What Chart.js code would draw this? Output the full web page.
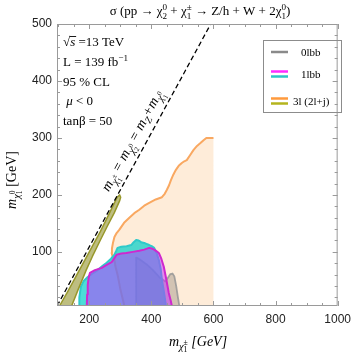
<!DOCTYPE html>
<html>
<head>
<meta charset="utf-8">
<script src="https://cdn.jsdelivr.net/npm/chart.js@4"></script>
<style>
  html, body { margin: 0; padding: 0; background: #fff; }
  #wrap { width: 357px; height: 357px; }
</style>
</head>
<body>
<div id="wrap"><canvas id="c" width="357" height="357"></canvas></div>
<script>
// axis ticks
const xTicks = [200, 400, 600, 800, 1000];
const yTicks = [100, 200, 300, 400, 500];
const xMinor = [100, 150, 250, 300, 350, 450, 500, 550, 650, 700, 750, 850, 900, 950];
const yMinor = [20, 40, 60, 80, 120, 140, 160, 180, 220, 240, 260, 280, 320, 340, 360, 380, 420, 440, 460, 480];

// m_chi2 = mZ + m_chi1 kinematic line
const mZ = 91.2;
const diagY = [5, 500];

// 3l (2l+j) : orange contour (left edge) and the excluded area up to 600 GeV
const orangeX = [313, 300, 291, 284, 281, 275, 272, 273, 276, 281, 288, 297, 312, 329, 345, 361, 377, 393, 414, 434, 443, 450, 457, 463, 471, 479, 488, 498, 506, 514, 525, 536, 547, 558, 568, 577, 600];
const orangeY = [5, 35, 60, 75, 86, 92, 98, 106, 115, 126, 133, 139, 151, 160, 168, 174, 181, 186, 192, 196, 202, 209, 217, 226, 236, 244, 251, 256, 259, 261, 270, 279, 286, 291, 296, 300, 300];
const orangeEdgeX = [600, 313];
const orangeEdgeY = [5, 5];

// 3l (2l+j) : olive band along the diagonal
const oliveX = [104, 130, 165, 200, 235, 265, 290, 298, 301, 298, 280, 258, 235, 210, 190, 165, 143, 104];
const oliveY = [5, 30, 65, 100, 135, 168, 196, 200, 196, 190, 168, 145, 120, 92, 68, 35, 5, 5];

// 0lbb
const grayX = [351, 351, 365, 385, 405, 425, 445, 455, 461, 468, 474, 480, 485, 490, 351];
const grayY = [5, 90, 86, 78, 68, 56, 48, 56, 61, 62, 57, 40, 22, 5, 5];

// 1lbb : cyan contour
const cyanX = [167, 168, 173, 182, 195, 210, 227, 242, 256, 270, 281, 287, 291, 303, 320, 335, 343, 351, 359, 367, 380, 393, 401, 409, 417, 424, 430, 434, 441, 447, 167];
const cyanY = [5, 20, 39, 49, 56, 62, 68, 75, 81, 88, 95, 102, 107, 109, 110, 112, 117, 121, 120, 117, 115, 112, 110, 107, 98, 86, 70, 51, 28, 5, 5];

// 1lbb : magenta contour
const magX = [192, 193, 195, 198, 202, 218, 240, 256, 272, 281, 288, 303, 319, 340, 361, 377, 393, 401, 409, 417, 424, 432, 440, 448, 456, 462, 466, 192];
const magY = [5, 25, 42, 55, 63, 68, 72, 77, 82, 89, 95, 97, 98, 100, 102, 104, 107, 106, 104, 101, 98, 88, 74, 52, 28, 15, 5, 5];

const SERIF = '"Liberation Serif", "DejaVu Serif", serif';
const SANS = '"Liberation Sans", Arial, sans-serif';

const pts = (xs, ys) => xs.map((x, i) => ({ x: x, y: ys[i] }));

// draw a run of text pieces {t, s(scale), dy(em), it, stack}
function rich(ctx, parts, x, y, size, draw) {
    let cx = x, lastStart = x, lastW = 0;
    for (const p of parts) {
        const sz = size * (p.s || 1);
        ctx.font = (p.it ? 'italic ' : '') + sz + 'px ' + SERIF;
        const w = ctx.measureText(p.t).width;
        let px = cx;
        if (p.stack) px = lastStart;
        if (draw) ctx.fillText(p.t, px, y + (p.dy || 0) * size);
        if (p.stack) {
            cx = lastStart + Math.max(lastW, w);
            lastW = Math.max(lastW, w);
        } else {
            lastStart = cx; lastW = w; cx += w;
        }
    }
    return cx - x;
}
function richAt(ctx, parts, x, y, size, align) {
    const w = rich(ctx, parts, 0, 0, size, false);
    const sx = align === 'center' ? x - w / 2 : x;
    rich(ctx, parts, sx, y, size, true);
}

const annotations = {
    id: 'annotations',
    afterDraw(chart) {
        const ctx = chart.ctx;
        const a = chart.chartArea;
        const xs = chart.scales.x, ys = chart.scales.y;
        ctx.save();

        // frame and inward ticks on all four sides
        ctx.strokeStyle = '#9a9a9a';
        ctx.lineWidth = 1;
        ctx.strokeRect(a.left + 0.5, a.top + 0.5, a.right - a.left - 1, a.bottom - a.top - 1);
        ctx.beginPath();
        const tickX = (v, len) => {
            const p = Math.round(xs.getPixelForValue(v)) + 0.5;
            ctx.moveTo(p, a.bottom); ctx.lineTo(p, a.bottom - len);
            ctx.moveTo(p, a.top); ctx.lineTo(p, a.top + len);
        };
        const tickY = (v, len) => {
            const p = Math.round(ys.getPixelForValue(v)) + 0.5;
            ctx.moveTo(a.left, p); ctx.lineTo(a.left + len, p);
            ctx.moveTo(a.right, p); ctx.lineTo(a.right - len, p);
        };
        xTicks.forEach(v => tickX(v, 5));
        xMinor.forEach(v => tickX(v, 3));
        yTicks.forEach(v => tickY(v, 5));
        yMinor.forEach(v => tickY(v, 3));
        ctx.stroke();

        ctx.fillStyle = '#000';
        ctx.textBaseline = 'alphabetic';
        ctx.textAlign = 'left';

        // title
        richAt(ctx, [
            { t: '\u03c3 (pp \u2192 \u03c7' }, { t: '2', s: 0.7, dy: 0.3 }, { t: '0', s: 0.7, dy: -0.4, stack: true },
            { t: ' + \u03c7' }, { t: '1', s: 0.7, dy: 0.3 }, { t: '\u00b1', s: 0.7, dy: -0.4, stack: true },
            { t: ' \u2192 Z/h + W + 2\u03c7' }, { t: '1', s: 0.7, dy: 0.3 }, { t: '0', s: 0.7, dy: -0.4, stack: true },
            { t: ')' }
        ], 200, 15, 13, 'center');

        // info block
        const L = 63, fs = 13;
        rich(ctx, [{ t: '\u221a' }, { t: 's', it: true }, { t: ' =13 TeV' }], L, 46, fs, true);
        ctx.font = fs + 'px ' + SERIF;
        const rw = ctx.measureText('\u221a').width;
        ctx.fillRect(L + rw - 0.5, 36, 6.5, 0.9);
        rich(ctx, [{ t: 'L = 139 fb' }, { t: '\u22121', s: 0.7, dy: -0.4 }], L, 66, fs, true);
        rich(ctx, [{ t: '95 % CL' }], L, 86, fs, true);
        rich(ctx, [{ t: ' \u03bc', it: true }, { t: ' < 0' }], L, 105, fs, true);
        rich(ctx, [{ t: 'tan\u03b2 = 50' }], L, 125, fs, true);

        // legend
        ctx.strokeStyle = '#8c8c8c';
        ctx.lineWidth = 1;
        ctx.strokeRect(263.5, 40.5, 78, 72);
        const legLine = (y, col) => {
            ctx.strokeStyle = col; ctx.lineWidth = 2.5;
            ctx.beginPath(); ctx.moveTo(271, y); ctx.lineTo(288, y); ctx.stroke();
        };
        legLine(52, '#8a8a8a');
        legLine(71.5, '#ff2cff');
        legLine(76.5, '#2ec6c6');
        legLine(98.5, '#ff9a3c');
        legLine(103.5, '#b4b41e');
        rich(ctx, [{ t: '0lbb' }], 301, 56, 11, true);
        rich(ctx, [{ t: '1lbb' }], 301, 78, 11, true);
        rich(ctx, [{ t: '3l (2l+j)' }], 293, 105, 11, true);

        // x axis title
        richAt(ctx, [
            { t: 'm', it: true }, { t: '\u03c7', it: true, s: 0.75, dy: 0.25 },
            { t: '1', s: 0.55, dy: 0.45 }, { t: '\u00b1', s: 0.55, dy: -0.05, stack: true },
            { t: ' [GeV]', it: true }
        ], 198, 346, 14, 'center');

        // y axis title
        ctx.save();
        ctx.translate(16, 180);
        ctx.rotate(-Math.PI / 2);
        richAt(ctx, [
            { t: 'm', it: true }, { t: '\u03c7', it: true, s: 0.75, dy: 0.25 },
            { t: '1', s: 0.55, dy: 0.45 }, { t: '0', s: 0.55, dy: -0.05, stack: true },
            { t: ' [GeV]' }
        ], 0, 0, 14, 'center');
        ctx.restore();

        // label along the kinematic line
        const y0 = 284, x0 = y0 + mZ;
        const p0x = xs.getPixelForValue(x0), p0y = ys.getPixelForValue(y0);
        const p1x = xs.getPixelForValue(x0 + 100), p1y = ys.getPixelForValue(y0 + 100);
        const ang = Math.atan2(p1y - p0y, p1x - p0x);
        ctx.save();
        ctx.translate(p0x, p0y);
        ctx.rotate(ang);
        richAt(ctx, [
            { t: 'm', it: true }, { t: '\u03c7', it: true, s: 0.75, dy: 0.25 },
            { t: '1', s: 0.5, dy: 0.45 }, { t: '\u00b1', s: 0.5, dy: -0.05, stack: true },
            { t: ' = ', it: true },
            { t: 'm', it: true }, { t: '\u03c7', it: true, s: 0.75, dy: 0.25 },
            { t: '2', s: 0.5, dy: 0.45 }, { t: '0', s: 0.5, dy: -0.05, stack: true },
            { t: ' = ', it: true },
            { t: 'm', it: true }, { t: 'Z', it: true, s: 0.7, dy: 0.25 },
            { t: '+', it: true },
            { t: 'm', it: true }, { t: '\u03c7', it: true, s: 0.75, dy: 0.25 },
            { t: '1', s: 0.5, dy: 0.45 }, { t: '0', s: 0.5, dy: -0.05, stack: true }
        ], 0, -9, 14, 'center');
        ctx.restore();

        ctx.restore();
    }
};

const region = (xs, ys, fillCol, lineCol, lw, order) => ({
    data: pts(xs, ys),
    fill: 'shape',
    backgroundColor: fillCol,
    borderColor: lineCol,
    borderWidth: lw,
    borderJoinStyle: 'round',
    pointRadius: 0,
    tension: 0,
    order: order
});

new Chart(document.getElementById('c'), {
    type: 'line',
    data: {
        datasets: [
            // orange excluded area (no edge line)
            region(orangeX.concat(orangeEdgeX), orangeY.concat(orangeEdgeY), 'rgba(253, 212, 170, 0.45)', 'rgba(0,0,0,0)', 0, 9),
            region(grayX, grayY, 'rgba(140, 128, 118, 0.38)', 'rgba(150, 150, 150, 0.85)', 1.8, 8),
            {
                data: pts(orangeX, orangeY),
                fill: false,
                borderColor: '#f9a861',
                borderWidth: 2,
                borderJoinStyle: 'round',
                pointRadius: 0,
                tension: 0,
                order: 7
            },
            region(cyanX, cyanY, 'rgba(0, 206, 200, 0.7)', '#2fcaca', 2, 6),
            region(magX, magY, 'rgba(195, 45, 255, 0.5)', '#cf28cf', 2, 5),
            region(oliveX, oliveY, 'rgba(150, 150, 50, 0.62)', '#98982c', 1.5, 4),
            {
                data: diagY.map(y => ({ x: y + mZ, y: y })),
                fill: false,
                borderColor: '#000',
                borderWidth: 1.3,
                borderDash: [5, 3],
                pointRadius: 0,
                order: 1
            }
        ]
    },
    options: {
        responsive: false,
        animation: false,
        layout: { padding: { top: 24, right: 16, left: 0, bottom: 0 } },
        plugins: {
            legend: { display: false },
            tooltip: { enabled: false },
            title: { display: false }
        },
        scales: {
            x: {
                type: 'linear',
                min: 96,
                max: 1000,
                grid: { display: false, drawTicks: false },
                border: { display: false },
                afterBuildTicks: (s) => { s.ticks = xTicks.map(v => ({ value: v })); },
                afterFit: (s) => { s.height = 51; },
                ticks: {
                    padding: 6,
                    maxRotation: 0,
                    color: '#222',
                    font: { family: SANS, size: 12 },
                    callback: (v) => String(v)
                }
            },
            y: {
                type: 'linear',
                min: 5,
                max: 500,
                grid: { display: false, drawTicks: false },
                border: { display: false },
                afterBuildTicks: (s) => { s.ticks = yTicks.map(v => ({ value: v })); },
                afterFit: (s) => { s.width = 57; },
                ticks: {
                    padding: 5,
                    color: '#222',
                    font: { family: SANS, size: 12 },
                    callback: (v) => String(v)
                }
            }
        }
    },
    plugins: [annotations]
});
</script>
</body>
</html>
